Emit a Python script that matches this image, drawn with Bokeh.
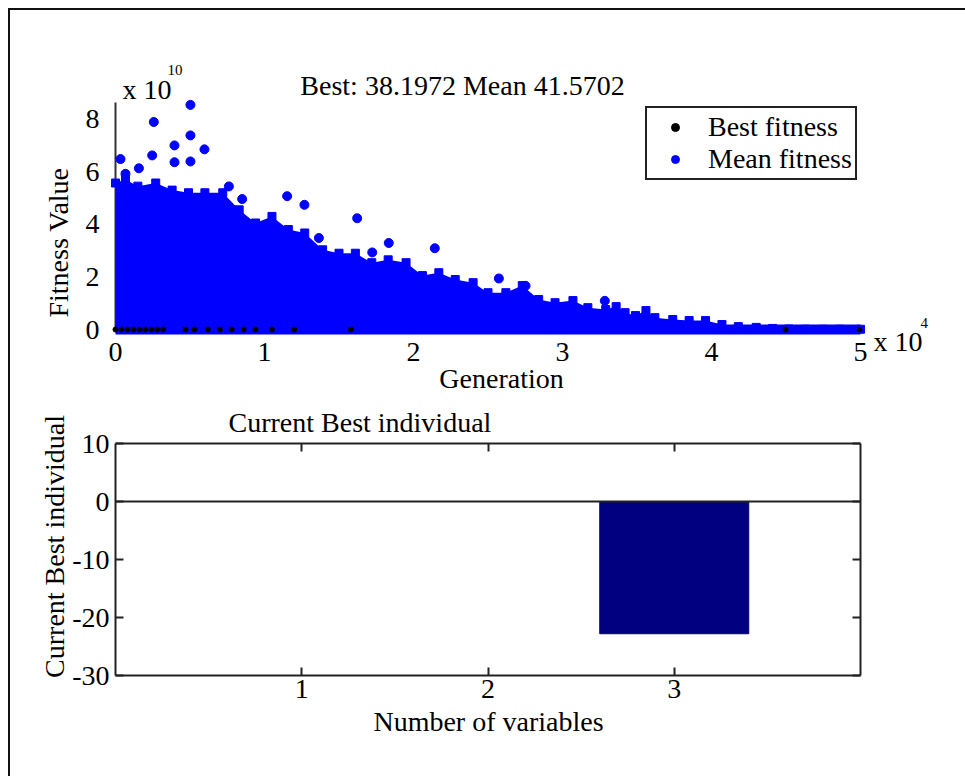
import math
from bokeh.plotting import figure
from bokeh.layouts import column
from bokeh.models import Range1d, FixedTicker, Label, Legend, LegendItem, LinearAxis
from bokeh.embed import file_html
from bokeh.resources import INLINE

FONT = "Liberation Serif"
FS = "28px"

# ---------------- data ----------------
# upper edge of the dense cloud of mean-fitness points (generation, value)
env_generation = [0, 670, 1500, 2700, 3800, 4900, 6000, 7200, 8300, 9400, 10500, 11600,
                  12700, 13900, 15000, 16100, 17200, 18300, 19500, 20600, 21700, 22800,
                  24000, 25000, 26200, 27300, 28400, 29500, 30700, 31700, 32900, 33600,
                  34200, 34900, 35600, 36200, 37400, 38500, 39600, 40700, 41800, 43000,
                  44100, 45200, 46300, 47500, 48600, 50000]
env_mean = [5.57e10, 5.70e10, 5.45e10, 5.57e10, 5.30e10, 5.20e10, 5.20e10, 5.20e10, 4.55e10,
            4.05e10, 4.30e10, 3.80e10, 3.67e10, 3.03e10, 2.90e10, 2.90e10, 2.54e10, 2.65e10,
            2.54e10, 2.05e10, 2.16e10, 1.90e10, 1.78e10, 1.40e10, 1.40e10, 1.67e10, 1.14e10,
            1.02e10, 1.10e10, 0.83e10, 0.76e10, 0.87e10, 0.64e10, 0.53e10, 0.72e10, 0.45e10,
            0.38e10, 0.34e10, 0.34e10, 0.19e10, 0.11e10, 0.08e10, 0.04e10, 0.02e10, 0.01e10,
            0.01e10, 0.01e10, 0.01e10]
env_floor = [0.0, 0.0, 0.0, 0.0, 0.0, 0.0, 0.0, 0.0, 0.0, 0.0, 0.0, 0.0, 0.0, 0.0, 0.0, 0.0,
             0.0, 0.0, 0.0, 0.0, 0.0, 0.0, 0.0, 0.0, 0.0, 0.0, 0.0, 0.0, 0.0, 0.0, 0.0, 0.0,
             0.0, 0.0, 0.0, 0.0, 0.0, 0.0, 0.0, 0.0, 0.0, 0.0, 0.0, 0.0, 0.0, 0.0, 0.0, 0.0]
# lower edge of the cloud
floor_generation = [0, 50000]
floor_mean = [0.0, 0.0]
# isolated mean-fitness points above the cloud
out_generation = [335, 2570, 5030, 5030, 3960, 5970, 2460, 3960, 5030, 1570, 670, 11520,
                  12680, 7610, 8500, 16220, 13650, 18340, 21430, 17230, 25730, 27520, 32840]
out_mean = [6.48e10, 7.89e10, 8.54e10, 7.38e10, 7.00e10, 6.85e10, 6.62e10, 6.36e10, 6.39e10,
            6.13e10, 5.92e10, 5.07e10, 4.74e10, 5.44e10, 4.96e10, 4.23e10, 3.48e10, 3.29e10,
            3.09e10, 2.93e10, 1.94e10, 1.66e10, 1.09e10]
# best fitness points visible at the bottom
best_generation = [0, 400, 800, 1200, 1600, 2000, 2400, 2800, 3200, 4700, 5300, 6200, 7000,
                   7800, 8600, 9400, 10500, 12000, 15800, 44970, 49930]
best_fitness = [38.1972, 38.1972, 38.1972, 38.1972, 38.1972, 38.1972, 38.1972, 38.1972,
                38.1972, 38.1972, 38.1972, 38.1972, 38.1972, 38.1972, 38.1972, 38.1972,
                38.1972, 38.1972, 38.1972, 38.1972, 38.1972]

gen_ticks = [0, 10000, 20000, 30000, 40000, 50000]
gen_tick_labels = ["0", "1", "2", "3", "4", "5"]
fit_ticks = [0, 2e10, 4e10, 6e10, 8e10]
fit_tick_labels = ["0", "2", "4", "6", "8"]
fit_axis_top = 8.65e10

variables = [1, 2, 3]
best_individual = [0.0, 0.0, -22.8]
var_ticks = [1, 2, 3]
var_tick_labels = ["1", "2", "3"]
ind_ticks = [-30, -20, -10, 0, 10]
ind_tick_labels = ["-30", "-20", "-10", "0", "10"]
var_lim = (0, 4)
ind_lim = (-30, 10)

BLUE = "#0000FF"
AX = "#222222"

# ---------------- top plot (frame fills the canvas; axes at fixed positions) ----------------
W, H1, H2 = 955, 385, 381
OX, OY = 10, 10  # page offset of the figures


def px1(px):
    return (px - 115) / 745 * 50000


def py1(py):
    return (329 - py) / 26.3 * 1e10


def label(p, x, y, text, align="center", baseline="middle", size=FS, angle=0.0):
    p.add_layout(Label(x=x, y=y, text=text, text_align=align, text_baseline=baseline,
                       text_font=FONT, text_font_size=size, text_color="black", angle=angle))


p1 = figure(width=W, height=H1, output_backend="svg", toolbar_location=None,
            x_range=Range1d(px1(OX), px1(OX + W)), y_range=Range1d(py1(OY + H1), py1(OY)),
            min_border=0, x_axis_location=None, y_axis_location=None)
p1.grid.visible = False
p1.outline_line_color = None

yax1 = LinearAxis(fixed_location=0, ticker=FixedTicker(ticks=fit_ticks),
                  major_label_overrides=dict(zip(fit_ticks, fit_tick_labels)),
                  bounds=(0, fit_axis_top))
xax1 = LinearAxis(fixed_location=py1(336), ticker=FixedTicker(ticks=gen_ticks),
                  major_label_overrides=dict(zip(gen_ticks, gen_tick_labels)))
p1.add_layout(yax1, "left")
p1.add_layout(xax1, "below")
for ax in (xax1, yax1):
    ax.major_tick_line_color = None
    ax.minor_tick_line_color = None
    ax.major_label_text_font = FONT
    ax.major_label_text_font_size = FS
    ax.major_label_text_color = "black"
xax1.axis_line_color = None
xax1.major_label_standoff = 0
yax1.axis_line_color = "#333333"
yax1.axis_line_width = 2
yax1.major_label_standoff = 10
yax1.level = "underlay"

p1.varea(x=env_generation, y1=env_floor, y2=env_mean, fill_color=BLUE)
p1.line(floor_generation, floor_mean, line_color=BLUE, line_width=10)
p1.scatter(env_generation, env_mean, marker="square", size=8, fill_color=BLUE, line_color=BLUE)
mean_r = p1.scatter(out_generation, out_mean, marker="circle", size=9, fill_color=BLUE, line_color=BLUE)
best_r = p1.scatter(best_generation, best_fitness, marker="circle", size=5,
                    fill_color="black", line_color="black")

leg = Legend(items=[LegendItem(label="Best fitness", renderers=[best_r]),
                    LegendItem(label="Mean fitness", renderers=[mean_r])],
             location=(645 - OX, (OY + H1) - 180), label_text_font=FONT, label_text_font_size=FS,
             label_text_color="black", padding=3, spacing=0, glyph_width=50, glyph_height=20,
             label_standoff=8, border_line_color="#222222", border_line_width=2,
             border_line_alpha=1.0, background_fill_alpha=1.0, margin=0)
p1.add_layout(leg)

label(p1, px1(462), py1(85), "Best: 38.1972 Mean 41.5702")
label(p1, px1(122), py1(89), "x 10", align="left", baseline="alphabetic")
label(p1, px1(167), py1(69), "10", align="left", baseline="alphabetic", size="15px")
label(p1, px1(873), py1(341), "x 10", align="left", baseline="alphabetic")
label(p1, px1(920), py1(322), "4", align="left", baseline="alphabetic", size="15px")
label(p1, px1(58), py1(242), "Fitness Value", angle=math.pi / 2)
label(p1, px1(501), py1(378), "Generation")

# ---------------- bottom plot ----------------
Y2 = OY + H1  # page y of figure 2 top


def px2(px):
    return (px - 115) / 745 * 4


def py2(py):
    return 10 - (py - 443) / 232 * 40


p2 = figure(width=W, height=H2, output_backend="svg", toolbar_location=None,
            x_range=Range1d(px2(OX), px2(OX + W)), y_range=Range1d(py2(Y2 + H2), py2(Y2)),
            min_border=0, x_axis_location=None, y_axis_location=None)
p2.grid.visible = False
p2.outline_line_color = None

p2.vbar(x=variables, top=best_individual, bottom=0, width=0.8,
        fill_color="#000080", line_color="#000080")

left2 = LinearAxis(fixed_location=var_lim[0], bounds=ind_lim, ticker=FixedTicker(ticks=ind_ticks),
                   major_label_overrides=dict(zip(ind_ticks, ind_tick_labels)))
right2 = LinearAxis(fixed_location=var_lim[1], bounds=ind_lim, ticker=FixedTicker(ticks=ind_ticks),
                    major_label_overrides={t: "" for t in ind_ticks})
bottom2 = LinearAxis(fixed_location=ind_lim[0], bounds=var_lim, ticker=FixedTicker(ticks=var_ticks),
                     major_label_overrides=dict(zip(var_ticks, var_tick_labels)))
top2 = LinearAxis(fixed_location=ind_lim[1], bounds=var_lim, ticker=FixedTicker(ticks=var_ticks),
                  major_label_overrides={t: "" for t in var_ticks})
base2 = LinearAxis(fixed_location=0, bounds=var_lim, ticker=FixedTicker(ticks=[]),
                   major_label_overrides={})
p2.add_layout(left2, "left")
p2.add_layout(right2, "right")
p2.add_layout(bottom2, "below")
p2.add_layout(top2, "above")
p2.add_layout(base2, "below")
for ax in (left2, right2, bottom2, top2, base2):
    ax.axis_line_color = AX
    ax.axis_line_width = 2
    ax.major_tick_in = 8
    ax.major_tick_out = 0
    ax.major_tick_line_color = AX
    ax.major_tick_line_width = 2
    ax.minor_tick_line_color = None
    ax.major_label_text_font = FONT
    ax.major_label_text_font_size = FS
    ax.major_label_text_color = "black"
base2.major_tick_line_color = None
bottom2.major_label_standoff = 4
left2.major_label_standoff = 6

label(p2, px2(228), py2(422), "Current Best individual", align="left")
label(p2, px2(54), py2(546), "Current Best individual", angle=math.pi / 2)
label(p2, px2(488), py2(721), "Number of variables")

layout = column(p1, p2, spacing=0, margin=(8, 0, 0, 8),
                styles={"border-top": "2px solid #111111", "border-left": "2px solid #111111"})

with open("out.html", "w") as f:
    f.write(file_html(layout, INLINE))
